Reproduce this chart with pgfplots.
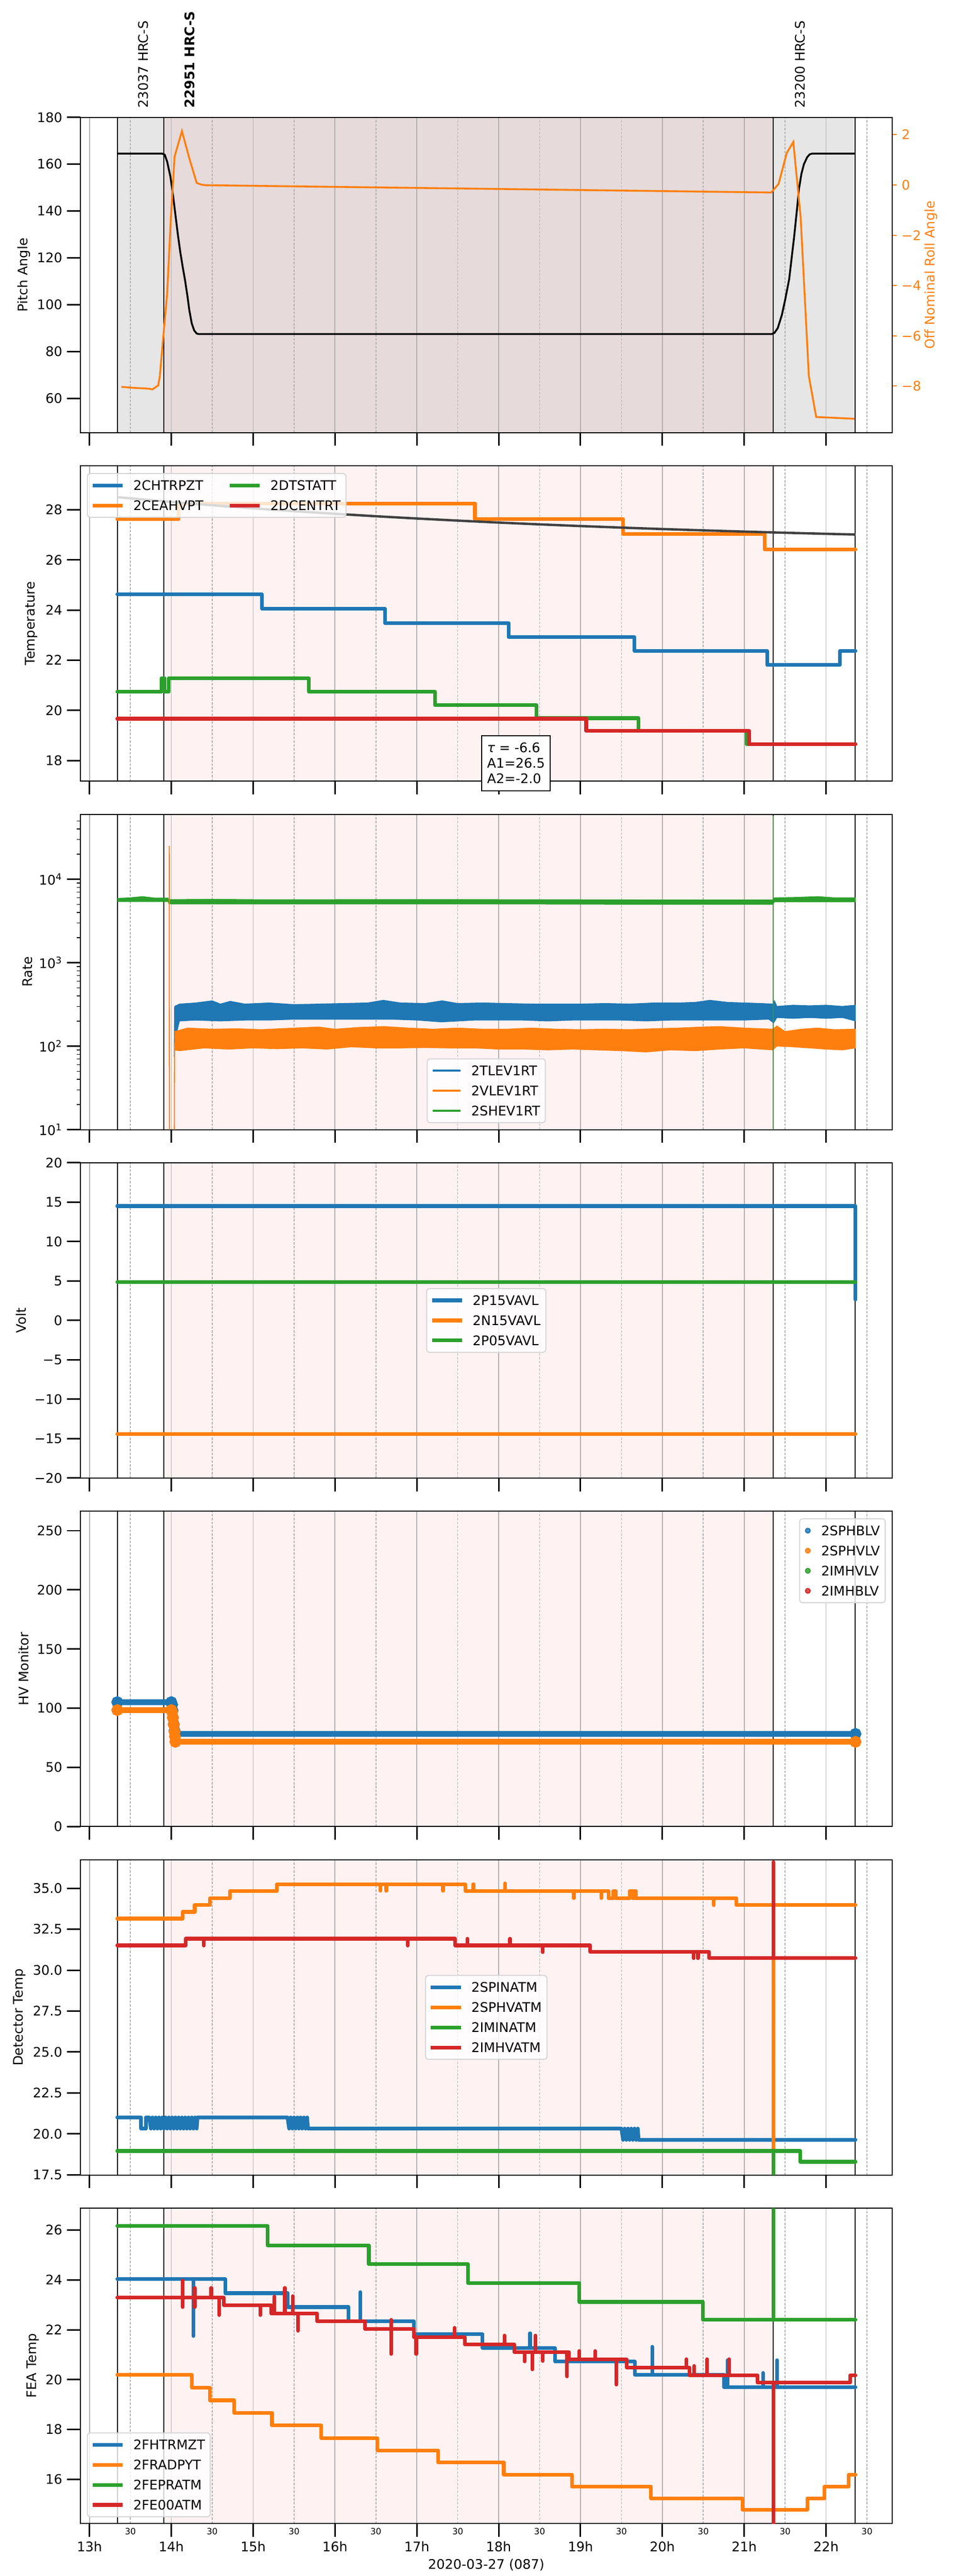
\documentclass[border=0pt]{standalone}
\usepackage{fontspec}
\setmainfont{DejaVu Sans}
\usepackage{pgfplots}
\pgfplotsset{compat=1.18}
\definecolor{c0}{HTML}{1F77B4}
\definecolor{c1}{HTML}{FF7F0E}
\definecolor{c2}{HTML}{2CA02C}
\definecolor{c3}{HTML}{D62728}
\definecolor{gridc}{HTML}{B0B0B0}
\definecolor{shadegray}{RGB}{230,230,230}
\definecolor{shadeboth}{RGB}{230,218,218}
\definecolor{shadepink}{RGB}{254,242,242}
\definecolor{fitc}{HTML}{404040}
\definecolor{legc}{RGB}{214,214,214}
\newcommand{\tfont}{\fontsize{10}{12}\selectfont}
\pgfplotsset{
  panel/.style={
    scale only axis, width=615.38pt, height=238.85pt, anchor=south west,
    xmin=12.886, xmax=22.811,
    xtick={13,14,...,22}, minor xtick={13.5,14.5,...,22.5},
    xticklabels={},
    xmajorgrids, xminorgrids,
    major x grid style={draw=gridc, line width=0.65pt, solid},
    minor x grid style={draw=gridc, line width=0.65pt, dash pattern=on 1.8pt off 1.1pt},
    tick align=outside, xtick pos=bottom, ytick pos=left,
    major tick length=10pt, minor tick length=0pt,
    major tick style={black, line width=1.15pt},
    minor tick style={black, line width=0.6pt},
    axis line style={line width=0.8pt},
    set layers, clip mode=individual,
    /pgf/number format/assume math mode=true,
    tick label style={font=\tfont},
    label style={font=\tfont},
    legend style={draw=legc, line width=0.8pt, rounded corners=2pt, fill=white, fill opacity=0.8, text opacity=1,
      font=\tfont, inner xsep=4pt, inner ysep=5.3pt,
      nodes={inner sep=0pt}, row sep=7.9pt, column sep=8pt,
      /tikz/every even column/.append style={column sep=20pt, nodes={text height=7.3pt, text depth=0pt}}},
    legend cell align=left,
    legend image code/.code={\draw[#1, line cap=rect] (0pt,0pt) -- (20pt,0pt);},
  },
  dat/.style={line width=2.8pt, line cap=round, line join=round, forget plot},
}
\newcommand{\bgshade}[2]{%
  \addplot[on layer=axis background, fill=shadepink, draw=none, forget plot] coordinates {(13.91,#1)(21.355,#1)(21.355,#2)(13.91,#2)};}
\newcommand{\obslines}[2]{%
  \addplot[black, line width=0.7pt, forget plot] coordinates {(13.34,#1)(13.34,#2)};
  \addplot[black, line width=0.7pt, forget plot] coordinates {(13.91,#1)(13.91,#2)};
  \addplot[black, line width=0.7pt, forget plot] coordinates {(21.355,#1)(21.355,#2)};
  \addplot[black, line width=0.7pt, forget plot] coordinates {(22.355,#1)(22.355,#2)};}
\begin{document}
\begin{tikzpicture}

% ---------------- Panel 1: pitch ----------------
\begin{axis}[panel, at={(60.71pt,1623.55pt)},
  ymin=45.4, ymax=180, ytick={60,80,...,180},
  ylabel={Pitch Angle}, ylabel style={at={(axis description cs:-0.0695,0.5)}, anchor=center}]
\addplot[on layer=axis background, fill=shadegray, draw=none, forget plot] coordinates {(13.34,45.4)(22.355,45.4)(22.355,180)(13.34,180)};
\addplot[on layer=axis background, fill=shadeboth, draw=none, forget plot] coordinates {(13.91,45.4)(21.355,45.4)(21.355,180)(13.91,180)};
\obslines{45.4}{180}
\addplot[black, line width=1.4pt, forget plot] coordinates {
(13.34,164.5)(13.89,164.5)(13.92,164.0)(13.95,161.0)(13.99,154.5)(14.02,147.0)(14.05,138.5)(14.08,130.0)(14.11,122.4)(14.14,116.0)(14.17,110.0)(14.20,103.0)(14.22,97.7)(14.25,92.0)(14.28,89.0)(14.31,87.7)(14.33,87.5)(21.34,87.5)(21.37,88.0)(21.41,90.0)(21.46,95.6)(21.50,102.0)(21.55,111.0)(21.58,120.0)(21.61,128.9)(21.64,139.0)(21.67,149.6)(21.70,156.0)(21.73,160.0)(21.77,163.0)(21.80,164.2)(21.83,164.5)(22.36,164.5)};
\node[rotate=90, anchor=west, inner sep=0pt, font=\tfont] at (axis cs:13.656,183.9) {23037 HRC-S};
\node[rotate=90, anchor=west, inner sep=0pt, font=\tfont\bfseries] at (axis cs:14.227,183.9) {22951 HRC-S};
\node[rotate=90, anchor=west, inner sep=0pt, font=\tfont] at (axis cs:21.68,183.9) {23200 HRC-S};
\end{axis}
\begin{axis}[scale only axis, width=615.38pt, height=238.85pt, anchor=south west, at={(60.71pt,1623.55pt)},
  xmin=12.886, xmax=22.811, ymin=-9.85, ymax=2.69,
  axis y line*=right, axis x line=none, clip mode=individual,
  ytick={-8,-6,-4,-2,0,2}, yticklabels={−8,−6,−4,−2,0,2},
  tick align=outside, major tick length=3.5pt, major tick style={c1, line width=0.8pt},
  axis line style={black, line width=0.8pt},
  yticklabel style={text=c1, font=\tfont},
  ylabel={Off Nominal Roll Angle}, ylabel style={text=c1, font=\tfont, at={(axis description cs:1.0476,0.5)}, anchor=center, rotate=0}]
\addplot[c1, line width=1.4pt, forget plot] coordinates {
(13.39,-8.03)(13.55,-8.07)(13.72,-8.10)(13.77,-8.13)(13.84,-7.97)(13.86,-7.6)(13.90,-6.1)(13.95,-4.3)(13.99,-1.6)(14.04,1.13)(14.13,2.14)(14.22,1.06)(14.31,0.08)(14.37,0.01)(14.42,-0.01)(21.33,-0.30)(21.42,0.04)(21.52,1.27)(21.60,1.71)(21.69,-1.29)(21.79,-7.6)(21.88,-9.23)(22.10,-9.26)(22.35,-9.3)};
\end{axis}

% ---------------- Panel 2: temperature ----------------
\begin{axis}[panel, at={(60.71pt,1359.58pt)},
  ymin=17.18, ymax=29.75, ytick={18,20,...,28},
  ylabel={Temperature}, ylabel style={at={(axis description cs:-0.0599,0.5)}, anchor=center},
  legend columns=2,
  legend style={at={(axis description cs:0.0083,0.977)}, anchor=north west}]
\bgshade{17.18}{29.75}
\obslines{17.18}{29.75}
\addplot[dat, c0] coordinates {(13.34,24.63)(15.11,24.63)(15.11,24.05)(16.61,24.05)(16.61,23.48)(18.12,23.48)(18.12,22.92)(19.66,22.92)(19.66,22.37)(21.28,22.37)(21.28,21.81)(22.17,21.81)(22.17,22.37)(22.36,22.37)};
\addplot[dat, c1] coordinates {(13.34,27.62)(14.09,27.62)(14.09,28.25)(17.71,28.25)(17.71,27.62)(19.52,27.62)(19.52,27.03)(21.25,27.03)(21.25,26.42)(22.36,26.42)};
\addplot[dat, c2] coordinates {(13.34,20.74)(13.88,20.74)(13.88,21.28)(13.92,21.28)(13.92,20.74)(13.97,20.74)(13.97,21.28)(15.68,21.28)(15.68,20.74)(17.22,20.74)(17.22,20.21)(18.46,20.21)(18.46,19.69)(19.71,19.69)(19.71,19.18)(21.03,19.18)(21.03,18.66)(22.36,18.66)};
\addplot[dat, c3] coordinates {(13.34,19.67)(19.07,19.67)(19.07,19.18)(21.06,19.18)(21.06,18.66)(22.36,18.66)};
\addplot[fitc, line width=1.8pt, forget plot] coordinates {(13.34,28.500)(14.00,28.310)(14.50,28.178)(15.00,28.055)(15.50,27.942)(16.00,27.837)(16.50,27.739)(17.00,27.649)(17.50,27.565)(18.00,27.487)(18.50,27.415)(19.00,27.348)(19.50,27.286)(20.00,27.229)(20.50,27.176)(21.00,27.127)(21.50,27.081)(22.00,27.039)(22.36,27.010)};
\addlegendimage{c0, line width=2.8pt}\addlegendentry{2CHTRPZT}
\addlegendimage{c2, line width=2.8pt}\addlegendentry{2DTSTATT}
\addlegendimage{c1, line width=2.8pt}\addlegendentry{2CEAHVPT}
\addlegendimage{c3, line width=2.8pt}\addlegendentry{2DCENTRT}
\node[draw=black, line width=0.8pt, fill=white, align=left, anchor=north west, inner xsep=4pt, inner ysep=5.5pt, font=\fontsize{10}{11.6}\selectfont] at (axis cs:17.787,19.02) {\textit{τ} = -6.6\\A1=26.5\\A2=-2.0};
\end{axis}

% ---------------- Panel 3: rate ----------------
\begin{axis}[panel, at={(60.71pt,1095.61pt)},
  ymode=log, ymin=10, ymax=60000,
  ytick={10,100,1000,10000}, yticklabels={10\textsuperscript{1},10\textsuperscript{2},10\textsuperscript{3},10\textsuperscript{4}},
  extra y ticks={20,30,40,50,60,70,80,90,200,300,400,500,600,700,800,900,2000,3000,4000,5000,6000,7000,8000,9000,20000,30000,40000,50000},
  extra y tick labels={},
  extra y tick style={major tick length=2.5pt, major tick style={line width=0.6pt}},
  ylabel={Rate}, ylabel style={at={(axis description cs:-0.0650,0.5)}, anchor=center},
  legend style={at={(axis description cs:0.5,0.0204)}, anchor=south}]
\bgshade{10}{60000}
\obslines{10}{60000}
\addplot[fill=c2, draw=c2, line width=0.5pt, forget plot] coordinates {(13.34,5900)(13.5,6000)(13.65,6200)(13.8,5950)(13.96,5950)(13.97,5700)(14.5,5750)(15,5700)(16,5700)(17,5720)(18,5700)(19,5680)(20,5650)(21,5650)(21.35,5650)(21.37,6000)(21.6,6050)(21.9,6200)(22.1,6000)(22.36,6000)(22.36,5350)(21.37,5350)(21.35,5000)(20,5000)(18,5050)(16,5050)(14,5050)(13.97,5100)(13.96,5400)(13.34,5400)};
\addplot[c2, line width=0.8pt, forget plot] coordinates {(13.975,5500)(13.975,20000)};
\addplot[fill=c0, draw=c0, line width=0.5pt, forget plot] coordinates {(14.035,75)(14.04,300)(14.1,320)(14.3,330)(14.5,350)(14.6,320)(14.72,345)(14.9,320)(15.2,330)(15.5,315)(15.8,320)(16.1,325)(16.4,330)(16.59,355)(16.8,330)(17.1,325)(17.31,350)(17.5,325)(17.8,330)(18.1,325)(18.4,320)(18.7,320)(19.0,320)(19.3,325)(19.6,320)(19.9,330)(20.2,330)(20.4,335)(20.58,355)(20.8,335)(21.0,330)(21.2,325)(21.35,320)(21.37,350)(21.4,300)(21.6,310)(21.8,305)(22.0,310)(22.2,300)(22.36,310)(22.36,200)(22.2,220)(22.0,215)(21.8,220)(21.6,215)(21.4,220)(21.36,190)(21.3,210)(21.0,205)(20.7,205)(20.4,205)(20.1,205)(19.8,200)(19.5,205)(19.2,205)(18.9,205)(18.6,200)(18.3,205)(18.0,205)(17.7,205)(17.3,195)(17.0,205)(16.7,210)(16.4,210)(16.1,210)(15.8,210)(15.5,210)(15.2,205)(14.9,205)(14.6,200)(14.3,205)(14.1,200)(14.045,120)};
\addplot[c1, line width=0.8pt, forget plot] coordinates {(13.975,25000)(13.977,1)(14.035,1)(14.04,110)};
\addplot[fill=c1, draw=c1, line width=0.5pt, forget plot] coordinates {(14.04,150)(14.2,165)(14.5,160)(14.8,162)(15.1,158)(15.5,165)(15.8,170)(16.0,160)(16.3,168)(16.6,172)(16.9,165)(17.2,160)(17.5,165)(17.8,160)(18.1,160)(18.4,165)(18.7,160)(19.0,158)(19.3,160)(19.6,158)(19.9,162)(20.2,165)(20.5,170)(20.7,172)(21.0,165)(21.35,160)(21.4,175)(21.5,150)(21.7,160)(21.9,165)(22.1,158)(22.36,160)(22.36,95)(22.2,90)(22.0,92)(21.8,95)(21.6,98)(21.4,100)(21.35,90)(21.0,95)(20.7,92)(20.4,88)(20.1,90)(19.8,85)(19.5,88)(19.2,90)(18.9,92)(18.6,90)(18.3,92)(18.0,92)(17.7,95)(17.4,95)(17.1,96)(16.8,95)(16.5,95)(16.2,98)(15.9,92)(15.6,95)(15.3,93)(15.0,95)(14.7,92)(14.4,95)(14.1,88)(14.04,90)};
\addplot[c2, line width=0.8pt, forget plot] coordinates {(21.357,1)(21.357,57000)};
\addlegendimage{c0, line width=1.4pt}\addlegendentry{2TLEV1RT}
\addlegendimage{c1, line width=1.4pt}\addlegendentry{2VLEV1RT}
\addlegendimage{c2, line width=1.4pt}\addlegendentry{2SHEV1RT}
\end{axis}

% ---------------- Panel 4: volt ----------------
\begin{axis}[panel, at={(60.71pt,831.65pt)},
  ymin=-20, ymax=20, ytick={-20,-15,...,20}, yticklabels={−20,−15,−10,−5,0,5,10,15,20},
  ylabel={Volt}, ylabel style={at={(axis description cs:-0.0726,0.5)}, anchor=center},
  legend style={at={(axis description cs:0.5,0.5)}, anchor=center}]
\bgshade{-20}{20}
\obslines{-20}{20}
\addplot[dat, c0] coordinates {(13.34,14.5)(22.36,14.5)(22.36,2.64)};
\addplot[dat, c1] coordinates {(13.34,-14.4)(22.36,-14.4)};
\addplot[dat, c2] coordinates {(13.34,4.88)(22.36,4.88)};
\addlegendimage{c0, line width=2.8pt}\addlegendentry{2P15VAVL}
\addlegendimage{c1, line width=2.8pt}\addlegendentry{2N15VAVL}
\addlegendimage{c2, line width=2.8pt}\addlegendentry{2P05VAVL}
\end{axis}

% ---------------- Panel 5: HV monitor ----------------
\begin{axis}[panel, at={(60.71pt,567.68pt)},
  ymin=0, ymax=266.4, ytick={0,50,...,250},
  ylabel={HV Monitor}, ylabel style={at={(axis description cs:-0.0695,0.5)}, anchor=center},
  legend style={at={(axis description cs:0.9918,0.9776)}, anchor=north east}]
\bgshade{0}{266.4}
\obslines{0}{266.4}
\addplot[c0, line width=4.4pt, line cap=round, mark=*, mark size=2.2pt, mark options={fill=c0, draw=c0}, forget plot] coordinates {(13.34,105.1)(14.00,105.1)(14.01,103)(14.015,98)(14.02,92)(14.03,86.5)(14.04,81)(14.05,78.3)(22.36,78.3)};
\addplot[c1, line width=4.4pt, line cap=round, mark=*, mark size=2.2pt, mark options={fill=c1, draw=c1}, forget plot] coordinates {(13.34,98.4)(14.00,98.4)(14.01,97)(14.02,92)(14.03,86)(14.04,80)(14.045,76)(14.05,71.6)(22.36,71.6)};
\addlegendimage{legend image code/.code={\fill[c0] (10pt,0pt) circle (1.8pt);}}\addlegendentry{2SPHBLV}
\addlegendimage{legend image code/.code={\fill[c1] (10pt,0pt) circle (1.8pt);}}\addlegendentry{2SPHVLV}
\addlegendimage{legend image code/.code={\fill[c2] (10pt,0pt) circle (1.8pt);}}\addlegendentry{2IMHVLV}
\addlegendimage{legend image code/.code={\fill[c3] (10pt,0pt) circle (1.8pt);}}\addlegendentry{2IMHBLV}
\end{axis}

% ---------------- Panel 6: detector temp ----------------
\begin{axis}[panel, at={(60.71pt,303.71pt)},
  ymin=17.48, ymax=36.746, ytick={17.5,20,...,35}, yticklabels={17.5,20.0,22.5,25.0,27.5,30.0,32.5,35.0},
  ylabel={Detector Temp}, ylabel style={at={(axis description cs:-0.0748,0.5)}, anchor=center},
  legend style={at={(axis description cs:0.5,0.5)}, anchor=center}]
\bgshade{17.48}{36.746}
\obslines{17.48}{36.746}
\addplot[dat, c0] coordinates {(13.34,21.0)(13.63,21.0)(13.63,20.32)(13.69,20.32)(13.69,21.0)(13.73,21.0)(13.75,20.32)(13.77,21.0)(13.79,20.32)(13.81,21.0)(13.83,20.32)(13.85,21.0)(13.87,20.32)(13.89,21.0)(13.91,20.32)(13.93,21.0)(13.95,20.32)(13.97,21.0)(13.99,20.32)(14.01,21.0)(14.03,20.32)(14.05,21.0)(14.07,20.32)(14.09,21.0)(14.11,20.32)(14.13,21.0)(14.15,20.32)(14.17,21.0)(14.19,20.32)(14.21,21.0)(14.23,20.32)(14.25,21.0)(14.27,20.32)(14.29,21.0)(14.31,20.32)(14.32,21.0)(15.42,21.0)(15.44,20.32)(15.46,21.0)(15.48,20.32)(15.50,21.0)(15.52,20.32)(15.54,21.0)(15.56,20.32)(15.58,21.0)(15.60,20.32)(15.62,21.0)(15.64,20.32)(15.66,21.0)(15.67,20.32)(19.50,20.32)(19.52,19.63)(19.54,20.32)(19.56,19.63)(19.58,20.32)(19.60,19.63)(19.62,20.32)(19.64,19.63)(19.66,20.32)(19.68,19.63)(19.70,20.32)(19.71,19.63)(22.36,19.63)};
\addplot[dat, c1] coordinates {(13.34,33.15)(14.138,33.15)(14.138,33.56)(14.286,33.56)(14.286,33.97)(14.472,33.97)(14.472,34.39)(14.717,34.39)(14.717,34.82)(15.290,34.82)(15.290,35.25)(16.554,35.25)(16.554,34.85)(16.554,35.25)(16.628,35.25)(16.628,34.85)(16.628,35.25)(17.320,35.25)(17.320,34.85)(17.320,35.25)(17.595,35.25)(17.595,34.82)(17.691,34.82)(17.691,35.25)(17.691,34.82)(18.078,34.82)(18.078,35.3)(18.078,34.82)(18.918,34.82)(18.918,34.40)(18.918,34.82)(19.253,34.82)(19.253,34.40)(19.253,34.82)(19.342,34.82)(19.342,34.39)(19.40,34.39)(19.40,34.82)(19.43,34.82)(19.43,34.39)(19.60,34.39)(19.60,34.82)(19.64,34.82)(19.64,34.39)(19.66,34.39)(19.66,34.82)(19.677,34.82)(19.677,34.39)(20.628,34.39)(20.628,33.97)(20.628,34.39)(20.903,34.39)(20.903,33.97)(21.357,33.97)(21.357,10)(21.357,33.97)(22.36,33.97)};
\addplot[dat, c2] coordinates {(13.34,18.95)(21.357,18.95)(21.357,10)(21.357,18.95)(21.684,18.95)(21.684,18.29)(22.36,18.29)};
\addplot[dat, c3] coordinates {(13.34,31.51)(14.175,31.51)(14.175,31.92)(14.398,31.92)(14.398,31.5)(14.398,31.92)(16.888,31.92)(16.888,31.5)(16.888,31.92)(17.468,31.92)(17.468,31.51)(17.617,31.51)(17.617,31.92)(17.617,31.51)(18.138,31.51)(18.138,31.92)(18.138,31.51)(18.539,31.51)(18.539,31.1)(18.539,31.51)(19.119,31.51)(19.119,31.12)(20.383,31.12)(20.383,30.73)(20.383,31.12)(20.435,31.12)(20.435,30.73)(20.435,31.12)(20.569,31.12)(20.569,30.73)(21.357,30.73)(21.357,36.6)(21.357,30.73)(22.36,30.73)};
\addlegendimage{c0, line width=2.8pt}\addlegendentry{2SPINATM}
\addlegendimage{c1, line width=2.8pt}\addlegendentry{2SPHVATM}
\addlegendimage{c2, line width=2.8pt}\addlegendentry{2IMINATM}
\addlegendimage{c3, line width=2.8pt}\addlegendentry{2IMHVATM}
\end{axis}

% ---------------- Panel 7: FEA temp ----------------
\begin{axis}[panel, at={(60.71pt,39.75pt)},
  ymin=14.228, ymax=26.878, ytick={16,18,...,26},
  xticklabels={13h,14h,15h,16h,17h,18h,19h,20h,21h,22h},
  extra x ticks={13.5,14.5,...,22.5}, extra x tick labels={30,30,30,30,30,30,30,30,30,30},
  extra x tick style={major tick length=0pt, grid=none, xticklabel style={font=\fontsize{6.5}{7}\selectfont}},
  xlabel={2020-03-27 (087)}, xlabel style={at={(axis description cs:0.5,-0.1316)}, anchor=center},
  ylabel={FEA Temp}, ylabel style={at={(axis description cs:-0.0584,0.5)}, anchor=center},
  legend style={at={(axis description cs:0.0083,0.0198)}, anchor=south west}]
\bgshade{14.228}{26.878}
\obslines{14.228}{26.878}
\addplot[dat, c0] coordinates {(13.34,24.03)(14.271,24.03)(14.271,21.75)(14.271,24.03)(14.658,24.03)(14.658,23.47)(15.424,23.47)(15.424,22.91)(16.167,22.91)(16.167,22.35)(16.309,22.35)(16.309,23.51)(16.309,22.35)(16.963,22.35)(16.963,21.82)(17.803,21.82)(17.803,21.27)(18.383,21.27)(18.383,21.86)(18.383,21.27)(18.688,21.27)(18.688,20.73)(19.662,20.73)(19.662,20.20)(19.877,20.20)(19.877,21.32)(19.877,20.20)(20.755,20.20)(20.755,19.69)(20.799,19.69)(20.799,20.78)(20.799,19.69)(21.23,19.69)(21.23,20.27)(21.23,19.69)(21.401,19.69)(21.401,20.78)(21.401,19.69)(22.36,19.69)};
\addplot[dat, c1] coordinates {(13.34,20.20)(14.249,20.20)(14.249,19.68)(14.472,19.68)(14.472,19.17)(14.770,19.17)(14.770,18.66)(15.230,18.66)(15.230,18.16)(15.833,18.16)(15.833,17.66)(16.517,17.66)(16.517,17.16)(17.260,17.16)(17.260,16.68)(18.063,16.68)(18.063,16.19)(18.896,16.19)(18.896,15.71)(19.862,15.71)(19.862,15.24)(20.978,15.24)(20.978,14.78)(21.773,14.78)(21.773,15.24)(21.981,15.24)(21.981,15.71)(22.279,15.71)(22.279,16.19)(22.36,16.19)};
\addplot[dat, c2] coordinates {(13.34,26.16)(15.178,26.16)(15.178,25.39)(16.413,25.39)(16.413,24.63)(17.625,24.63)(17.625,23.88)(18.985,23.88)(18.985,23.12)(20.494,23.12)(20.494,22.40)(21.357,22.40)(21.357,30)(21.357,22.40)(22.36,22.40)};
\addplot[dat, c3] coordinates {(13.34,23.29)(14.138,23.29)(14.138,23.98)(14.138,22.91)(14.138,23.29)(14.286,23.29)(14.286,22.91)(14.286,23.68)(14.286,23.29)(14.487,23.29)(14.487,23.68)(14.487,23.29)(14.584,23.29)(14.584,22.59)(14.584,23.29)(14.643,23.29)(14.643,22.98)(15.089,22.98)(15.089,22.59)(15.089,22.98)(15.223,22.98)(15.223,22.66)(15.260,22.66)(15.260,23.33)(15.260,22.66)(15.387,22.66)(15.387,23.68)(15.387,22.66)(15.483,22.66)(15.483,23.35)(15.483,22.66)(15.550,22.66)(15.550,21.96)(15.550,22.66)(15.781,22.66)(15.781,22.35)(16.368,22.35)(16.368,22.03)(16.688,22.03)(16.688,22.40)(16.688,21.03)(16.688,22.03)(16.963,22.03)(16.963,21.70)(16.993,21.70)(16.993,21.03)(16.993,21.70)(17.461,21.70)(17.461,22.08)(17.461,21.70)(17.587,21.70)(17.587,21.41)(18.071,21.41)(18.071,21.77)(18.071,21.41)(18.190,21.41)(18.190,21.10)(18.316,21.10)(18.316,20.73)(18.316,21.10)(18.413,21.10)(18.413,20.41)(18.413,21.10)(18.450,21.10)(18.450,21.77)(18.450,21.10)(18.539,21.10)(18.539,20.75)(18.539,21.10)(18.836,21.10)(18.836,20.13)(18.836,21.10)(18.859,21.10)(18.859,20.81)(18.985,20.81)(18.985,21.15)(18.985,20.81)(19.178,20.81)(19.178,21.15)(19.178,20.81)(19.439,20.81)(19.439,19.80)(19.439,20.81)(19.565,20.81)(19.565,20.49)(20.294,20.49)(20.294,20.82)(20.294,20.49)(20.331,20.49)(20.331,20.17)(20.390,20.17)(20.390,20.55)(20.390,20.17)(20.546,20.17)(20.546,20.82)(20.546,20.17)(20.814,20.17)(20.814,20.82)(20.814,20.17)(21.164,20.17)(21.164,19.88)(21.357,19.88)(21.357,10)(21.357,19.88)(22.294,19.88)(22.294,20.17)(22.36,20.17)};
\addlegendimage{c0, line width=2.8pt}\addlegendentry{2FHTRMZT}
\addlegendimage{c1, line width=2.8pt}\addlegendentry{2FRADPYT}
\addlegendimage{c2, line width=2.8pt}\addlegendentry{2FEPRATM}
\addlegendimage{c3, line width=2.8pt}\addlegendentry{2FE00ATM}
\end{axis}
\pgfresetboundingbox
\path[use as bounding box] (0pt,0pt) rectangle (722.7pt,1951.29pt);
\end{tikzpicture}
\end{document}
